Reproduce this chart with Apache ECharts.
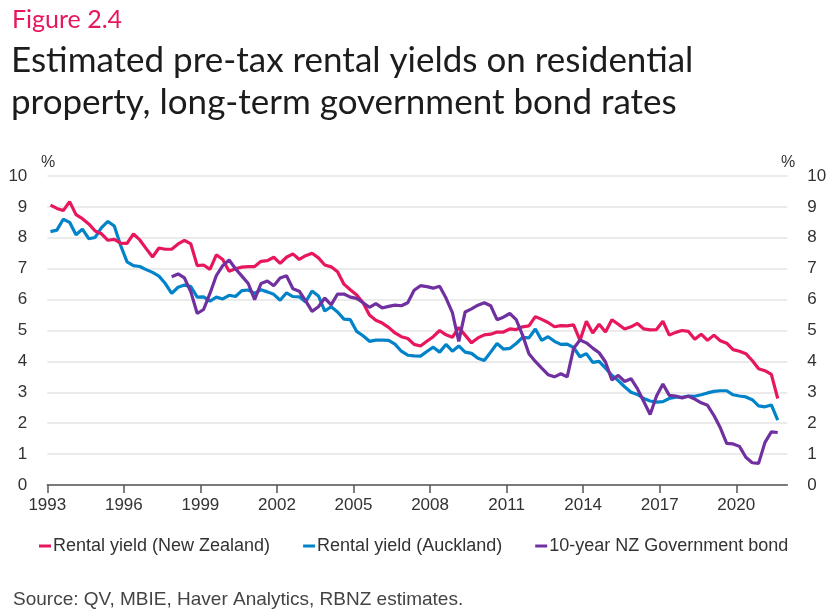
<!DOCTYPE html>
<html>
<head>
<meta charset="utf-8">
<script src="https://cdn.jsdelivr.net/npm/echarts@6/dist/echarts.min.js"></script>
<style>
html,body{margin:0;padding:0;background:#fff;}
#chart{width:836px;height:609px;}
</style>
</head>
<body>
<div id="chart"></div>
<script>
// Quarterly observations, first point 1993 Q1 (plotted mid-quarter)
const firstQuarter = 1993.125;
const quarterStep = 0.25;
const xTickYears = [1993, 1996, 1999, 2002, 2005, 2008, 2011, 2014, 2017, 2020];
const yTicks = [0,1,2,3,4,5,6,7,8,9,10];

const rentalNZ = [
 9.06, 8.95, 8.88, 9.17, 8.75, 8.62, 8.45, 8.22, 8.13, 7.92,
 7.95, 7.83, 7.82, 8.13, 7.93, 7.65, 7.38, 7.67, 7.63, 7.63,
 7.80, 7.92, 7.80, 7.10, 7.12, 6.98, 7.45, 7.30, 6.92, 7.00,
 7.05, 7.07, 7.07, 7.24, 7.26, 7.37, 7.17, 7.37, 7.48, 7.30,
 7.42, 7.50, 7.35, 7.12, 7.06, 6.90, 6.50, 6.32, 6.15, 5.90,
 5.50, 5.33, 5.24, 5.10, 4.92, 4.80, 4.74, 4.55, 4.50, 4.65,
 4.80, 5.00, 4.86, 4.78, 5.10, 4.85, 4.60, 4.76, 4.86, 4.88,
 4.95, 4.95, 5.05, 5.03, 5.12, 5.15, 5.45, 5.36, 5.26, 5.12,
 5.16, 5.15, 5.18, 4.68, 5.30, 4.92, 5.20, 4.95, 5.35, 5.20,
 5.05, 5.12, 5.23, 5.05, 5.02, 5.03, 5.30, 4.85, 4.94, 5.00,
 4.97, 4.72, 4.88, 4.68, 4.85, 4.67, 4.59, 4.38, 4.33, 4.25,
 4.03, 3.76, 3.70, 3.58, 2.80
];
const rentalAKL = [
 8.20, 8.25, 8.60, 8.50, 8.10, 8.28, 7.97, 8.01, 8.33, 8.53,
 8.38, 7.75, 7.22, 7.10, 7.07, 6.97, 6.88, 6.76, 6.52, 6.20,
 6.40, 6.47, 6.42, 6.08, 6.09, 5.95, 6.08, 6.02, 6.14, 6.10,
 6.29, 6.31, 6.20, 6.32, 6.25, 6.17, 5.98, 6.22, 6.10, 6.09,
 5.92, 6.28, 6.12, 5.63, 5.77, 5.60, 5.37, 5.35, 4.97, 4.83,
 4.65, 4.69, 4.69, 4.68, 4.56, 4.33, 4.20, 4.18, 4.17, 4.32,
 4.46, 4.30, 4.55, 4.33, 4.50, 4.30, 4.26, 4.10, 4.03, 4.30,
 4.58, 4.40, 4.42, 4.58, 4.78, 4.76, 5.05, 4.68, 4.80, 4.65,
 4.55, 4.56, 4.45, 4.15, 4.25, 3.97, 4.00, 3.78, 3.55, 3.38,
 3.18, 3.00, 2.93, 2.80, 2.72, 2.68, 2.70, 2.80, 2.84, 2.84,
 2.88, 2.87, 2.92, 2.98, 3.03, 3.05, 3.05, 2.92, 2.88, 2.85,
 2.76, 2.56, 2.53, 2.59, 2.10
];
// 10-year bond series starts at quarter index 19 (1997 Q4)
const bondStartIndex = 19;
const bond10y = [
 6.74, 6.83, 6.70, 6.25, 5.55, 5.68, 6.20, 6.78, 7.10, 7.28,
 7.00, 6.76, 6.52, 6.00, 6.52, 6.60, 6.45, 6.70, 6.77, 6.35,
 6.27, 5.96, 5.62, 5.77, 6.05, 5.83, 6.18, 6.18, 6.08, 6.04,
 5.90, 5.75, 5.87, 5.73, 5.78, 5.82, 5.80, 5.90, 6.30, 6.45,
 6.42, 6.37, 6.43, 6.05, 5.58, 4.65, 5.60, 5.70, 5.82, 5.90,
 5.80, 5.35, 5.43, 5.55, 5.35, 4.85, 4.25, 4.00, 3.78, 3.57,
 3.50, 3.60, 3.50, 4.42, 4.69, 4.60, 4.43, 4.28, 3.98, 3.40,
 3.55, 3.35, 3.44, 3.12, 2.70, 2.28, 2.88, 3.27, 2.90, 2.88,
 2.82, 2.87, 2.78, 2.66, 2.58, 2.25, 1.85, 1.35, 1.33, 1.25,
 0.90, 0.72, 0.70, 1.38, 1.72, 1.70
];
const seriesNames = ['Rental yield (New Zealand)', 'Rental yield (Auckland)', '10-year NZ Government bond'];
const seriesColors = ['#e8175d', '#0083c9', '#7030a0'];

function toPairs(values, offset) {
  return values.map((v, i) => [firstQuarter + (offset + i) * quarterStep, v]);
}

const FONT = "'Liberation Sans', Arial, sans-serif";
const TFONT = "Lato, 'Noto Sans', sans-serif";
const chart = echarts.init(document.getElementById('chart'), null, {renderer: 'canvas'});

const yAxisCommon = {
  type: 'value', min: 0, max: 10, interval: 1,
  axisLine: {show: false}, axisTick: {show: false},
  splitLine: {show: true, lineStyle: {color: '#e4e4e4', width: 1.5}},
  axisLabel: {fontFamily: FONT, fontSize: 17, color: '#333', margin: 20}
};

chart.setOption({
  animation: false,
  backgroundColor: '#fff',
  title: [
    {text: 'Figure 2.4', left: 7, top: 2,
     textStyle: {fontFamily: TFONT, fontSize: 25, fontWeight: 'normal', color: '#e8175d'}},
    {text: 'Estimated pre-tax rental yields on residential\nproperty, long-term government bond rates', left: 6, top: 35,
     textStyle: {fontFamily: TFONT, fontSize: 35, fontWeight: 'normal', color: '#1c1c1c', lineHeight: 42}},
    {text: '%', left: 36, top: 150, textStyle: {fontFamily: FONT, fontSize: 16, fontWeight: 'normal', color: '#333'}},
    {text: '%', left: 776, top: 150, textStyle: {fontFamily: FONT, fontSize: 16, fontWeight: 'normal', color: '#333'}},
    {text: 'Source: QV, MBIE, Haver Analytics, RBNZ estimates.', left: 8, top: 585,
     textStyle: {fontFamily: FONT, fontSize: 19, fontWeight: 'normal', color: '#444'}}
  ],
  legend: {
    left: 34, top: 532, icon: 'rect', itemWidth: 12, itemHeight: 3, itemGap: 33,
    textStyle: {fontFamily: FONT, fontSize: 18, color: '#333', padding: [0,0,0,-3]},
    data: seriesNames
  },
  grid: {left: 47.3, right: 48.7, top: 176, bottom: 124, containLabel: false},
  xAxis: {
    type: 'value', min: 1993, max: 2022, interval: 3,
    axisLine: {show: true, lineStyle: {color: '#555', width: 1.5}},
    axisTick: {show: true, length: 8, lineStyle: {color: '#555', width: 1.5}, customValues: xTickYears},
    splitLine: {show: false},
    axisLabel: {fontFamily: FONT, fontSize: 17, color: '#333', margin: 12, customValues: xTickYears,
      formatter: v => String(v)}
  },
  yAxis: [
    Object.assign({}, yAxisCommon, {position: 'left'}),
    Object.assign({}, yAxisCommon, {position: 'right', splitLine: {show: false}})
  ],
  series: [
    {name: seriesNames[0], type: 'line', data: toPairs(rentalNZ, 0), showSymbol: false, symbol: 'none',
     lineStyle: {width: 3.2, color: seriesColors[0]}, itemStyle: {color: seriesColors[0]}, z: 3},
    {name: seriesNames[1], type: 'line', data: toPairs(rentalAKL, 0), showSymbol: false, symbol: 'none',
     lineStyle: {width: 3.2, color: seriesColors[1]}, itemStyle: {color: seriesColors[1]}, z: 2},
    {name: seriesNames[2], type: 'line', data: toPairs(bond10y, bondStartIndex), showSymbol: false, symbol: 'none',
     lineStyle: {width: 3.2, color: seriesColors[2]}, itemStyle: {color: seriesColors[2]}, z: 4}
  ]
});
</script>
</body>
</html>
